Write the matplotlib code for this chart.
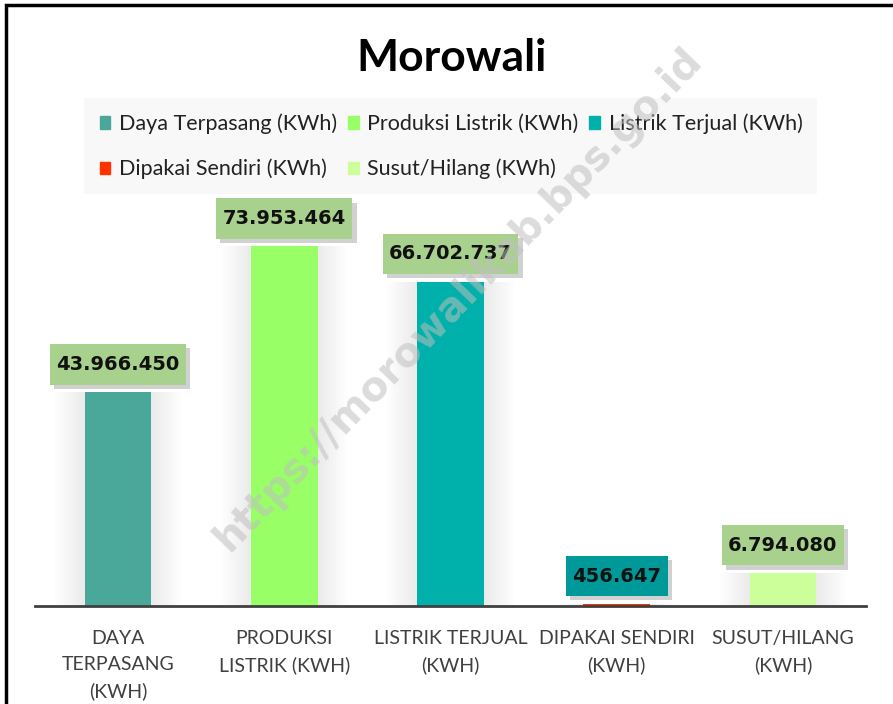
import matplotlib.pyplot as plt
import matplotlib.patches as mpatches
import matplotlib.path as mpath
import matplotlib.patheffects as pe
import numpy as np

plt.rcParams['font.family'] = ['Lato', 'DejaVu Sans']

# data
categories = ['DAYA\nTERPASANG\n(KWH)', 'PRODUKSI\nLISTRIK (KWH)', 'LISTRIK TERJUAL\n(KWH)',
              'DIPAKAI SENDIRI\n(KWH)', 'SUSUT/HILANG\n(KWH)']
series_names = ['Daya Terpasang (KWh)', 'Produksi Listrik (KWh)', 'Listrik Terjual (KWh)',
                'Dipakai Sendiri (KWh)', 'Susut/Hilang (KWh)']
values = [43966450, 73953464, 66702737, 456647, 6794080]
value_labels = ['43.966.450', '73.953.464', '66.702.737', '456.647', '6.794.080']

bar_colors = ['#4aa89b', '#99ff66', '#00b0aa', '#ff3300', '#ccff99']
label_colors = ['#a9d18e', '#a9d18e', '#a9d18e', '#00999a', '#a9d18e']


def tall_box(x0, y0, width, height, mutation_size):
    # rectangle with more padding top/bottom than left/right
    px = 0.33 * mutation_size
    py = 0.55 * mutation_size
    verts = [(x0 - px, y0 - py), (x0 + width + px, y0 - py),
             (x0 + width + px, y0 + height + py), (x0 - px, y0 + height + py),
             (x0 - px, y0 - py)]
    return mpath.Path(verts, closed=True)


fig = plt.figure(figsize=(8.93, 7.04), dpi=100, facecolor='white')
ax = fig.add_axes([0.0392, 0.1392, 0.9306, 0.5526])
ax.set_facecolor('none')

x = np.arange(len(values))

# soft glow around bars
for i, v in enumerate(values):
    for k in range(10):
        w = 0.4 + 0.36 - k * 0.036
        ax.bar(x[i], v, width=w, color='#000000', alpha=0.008, zorder=1, linewidth=0)

bars = ax.bar(x, values, width=0.4, color=bar_colors, zorder=3, linewidth=0)

# data labels with drop shadow
for i, v in enumerate(values):
    t = ax.annotate(value_labels[i], xy=(x[i], v), xytext=(0, 20), textcoords='offset points',
                    ha='center', va='center', fontsize=14, fontweight='bold', family='DejaVu Sans',
                    color='#111111', zorder=5, annotation_clip=False,
                    bbox=dict(boxstyle=tall_box, fc=label_colors[i], ec='none'))
    t.get_bbox_patch().set_path_effects([pe.SimplePatchShadow(offset=(3, -3), shadow_rgbFace='#000000',
                                                              alpha=0.18), pe.Normal()])

ax.set_xlim(-0.5, 4.5)
ax.set_ylim(0, 80000000)
ax.set_yticks([])
ax.set_xticks(x)
ax.set_xticklabels(categories, fontsize=14, color='#404040', linespacing=1.65)
ax.tick_params(axis='x', length=0, pad=17)
for s in ['top', 'right', 'left']:
    ax.spines[s].set_visible(False)
ax.spines['bottom'].set_color('#404040')
ax.spines['bottom'].set_linewidth(2)
ax.spines['bottom'].set_zorder(6)

# title
fig.text(0.506, 0.918, 'Morowali', ha='center', va='center', fontsize=32, fontweight='bold')

# legend, reordered so the entries run row by row
handles = [mpatches.Patch(color=c, label=n) for c, n in zip(bar_colors, series_names)]
order = [0, 3, 1, 4, 2]
leg = fig.legend([handles[i] for i in order], [series_names[i] for i in order],
                 ncol=3, loc='center', bbox_to_anchor=(0.505, 0.792), fontsize=15.5,
                 frameon=True, fancybox=False, handlelength=0.5, handleheight=0.5,
                 handletextpad=0.4, columnspacing=0.5, labelspacing=1.15, borderpad=0.7,
                 borderaxespad=0)
leg.get_frame().set_facecolor('#f8f8f8')
leg.get_frame().set_edgecolor('none')
leg.get_frame().set_alpha(1)
for t in leg.get_texts():
    t.set_color('#222222')

# watermark, semi-transparent on top of everything
fig.text(0.513, 0.574, 'https://morowalikab.bps.go.id', rotation=46, ha='center', va='center',
         fontsize=29, fontweight='bold', family='DejaVu Sans', color='#bfbfbf', alpha=0.55,
         zorder=20)

# outer border
fig.add_artist(plt.Rectangle((5.5 / 893, -0.1), 1.2, 1.1 - 5.5 / 704, transform=fig.transFigure,
                             fill=False, edgecolor='#000000', linewidth=2.5, zorder=10))

plt.savefig('out.png', dpi=100, facecolor='white')
